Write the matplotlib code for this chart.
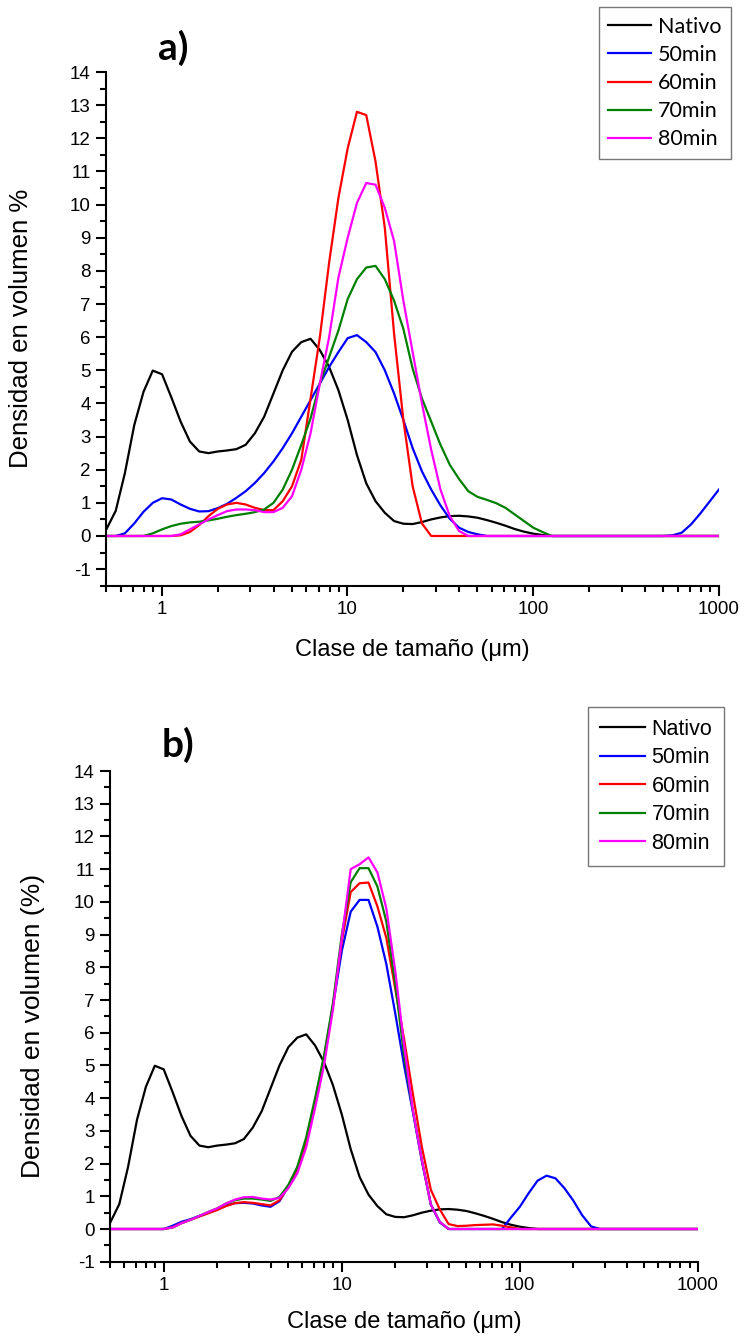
import matplotlib
matplotlib.use('Agg')
import matplotlib.pyplot as plt
from matplotlib.ticker import MultipleLocator, LogLocator, FixedLocator, FixedFormatter, NullFormatter

plt.rcParams['font.family'] = ['Liberation Sans', 'DejaVu Sans']
plt.rcParams['axes.unicode_minus'] = False

# size classes (um)
size_um = [0.502, 0.564, 0.632, 0.710, 0.796, 0.893, 1.002, 1.125, 1.262, 1.416,
           1.589, 1.783, 2.000, 2.244, 2.518, 2.825, 3.170, 3.557, 3.991, 4.477,
           5.024, 5.637, 6.325, 7.096, 7.962, 8.934, 10.024, 11.247, 12.619, 14.159,
           15.887, 17.825, 20.000, 22.440, 25.179, 28.251, 31.698, 35.566, 39.905, 44.774,
           50.238, 56.368, 63.246, 70.963, 79.621, 89.337, 100.237, 112.468, 126.191, 141.589,
           158.866, 178.250, 200.000, 224.404, 251.785, 282.508, 316.979, 355.656, 399.052, 447.744,
           502.377, 563.677, 632.456, 709.627, 796.214, 893.367, 1002.374]

nativo = [0.20, 0.76, 1.90, 3.35, 4.35, 4.99, 4.88, 4.18, 3.45, 2.85,
          2.55, 2.50, 2.55, 2.58, 2.62, 2.75, 3.10, 3.60, 4.30, 5.00,
          5.56, 5.85, 5.95, 5.61, 5.10, 4.40, 3.50, 2.44, 1.59, 1.05,
          0.70, 0.45, 0.37, 0.36, 0.42, 0.50, 0.56, 0.60, 0.61, 0.59,
          0.55, 0.48, 0.40, 0.31, 0.21, 0.13, 0.07, 0.03, 0.00, 0.00,
          0.00, 0.00, 0.00, 0.00, 0.00, 0.00, 0.00, 0.00, 0.00, 0.00,
          0.00, 0.00, 0.00, 0.00, 0.00, 0.00, 0.00]

# panel a)
a_50 = [0.00, 0.00, 0.08, 0.38, 0.73, 1.00, 1.14, 1.10, 0.95, 0.82,
        0.74, 0.75, 0.84, 0.97, 1.15, 1.35, 1.60, 1.90, 2.25, 2.65,
        3.10, 3.60, 4.10, 4.60, 5.10, 5.55, 5.97, 6.06, 5.85, 5.55,
        5.00, 4.30, 3.50, 2.65, 1.95, 1.40, 0.92, 0.52, 0.25, 0.12,
        0.05, 0.00, 0.00, 0.00, 0.00, 0.00, 0.00, 0.00, 0.00, 0.00,
        0.00, 0.00, 0.00, 0.00, 0.00, 0.00, 0.00, 0.00, 0.00, 0.00,
        0.00, 0.02, 0.10, 0.35, 0.68, 1.04, 1.40]
a_60 = [0.00, 0.00, 0.00, 0.00, 0.00, 0.00, 0.00, 0.00, 0.02, 0.12,
        0.33, 0.60, 0.82, 0.95, 1.00, 0.95, 0.85, 0.78, 0.78, 1.05,
        1.50, 2.30, 4.15, 6.00, 8.25, 10.20, 11.70, 12.80, 12.70, 11.30,
        9.30, 6.10, 3.50, 1.50, 0.38, 0.00, 0.00, 0.00, 0.00, 0.00,
        0.00, 0.00, 0.00, 0.00, 0.00, 0.00, 0.00, 0.00, 0.00, 0.00,
        0.00, 0.00, 0.00, 0.00, 0.00, 0.00, 0.00, 0.00, 0.00, 0.00,
        0.00, 0.00, 0.00, 0.00, 0.00, 0.00, 0.00]
a_70 = [0.00, 0.00, 0.00, 0.00, 0.00, 0.08, 0.20, 0.30, 0.37, 0.41,
        0.43, 0.47, 0.52, 0.58, 0.63, 0.67, 0.72, 0.80, 1.00, 1.40,
        2.00, 2.75, 3.55, 4.60, 5.40, 6.20, 7.15, 7.75, 8.10, 8.15,
        7.75, 7.10, 6.25, 5.05, 4.15, 3.45, 2.75, 2.15, 1.72, 1.35,
        1.18, 1.09, 0.99, 0.85, 0.65, 0.45, 0.25, 0.12, 0.00, 0.00,
        0.00, 0.00, 0.00, 0.00, 0.00, 0.00, 0.00, 0.00, 0.00, 0.00,
        0.00, 0.00, 0.00, 0.00, 0.00, 0.00, 0.00]
a_80 = [0.00, 0.00, 0.00, 0.00, 0.00, 0.00, 0.00, 0.00, 0.05, 0.20,
        0.35, 0.50, 0.63, 0.75, 0.80, 0.80, 0.78, 0.72, 0.72, 0.85,
        1.20, 2.00, 3.10, 4.60, 6.00, 7.80, 9.00, 10.05, 10.65, 10.60,
        9.90, 8.90, 7.10, 5.55, 4.00, 2.60, 1.40, 0.60, 0.15, 0.00,
        0.00, 0.00, 0.00, 0.00, 0.00, 0.00, 0.00, 0.00, 0.00, 0.00,
        0.00, 0.00, 0.00, 0.00, 0.00, 0.00, 0.00, 0.00, 0.00, 0.00,
        0.00, 0.00, 0.00, 0.00, 0.00, 0.00, 0.00]

# panel b)
b_50 = [0.00, 0.00, 0.00, 0.00, 0.00, 0.00, 0.00, 0.10, 0.22, 0.30,
        0.40, 0.50, 0.60, 0.72, 0.79, 0.80, 0.78, 0.72, 0.68, 0.85,
        1.30, 1.85, 2.70, 3.90, 5.20, 6.80, 8.50, 9.70, 10.06, 10.06,
        9.24, 8.10, 6.60, 5.00, 3.55, 2.07, 0.75, 0.20, 0.00, 0.00,
        0.00, 0.00, 0.00, 0.00, 0.00, 0.35, 0.68, 1.10, 1.48, 1.63,
        1.55, 1.25, 0.87, 0.42, 0.08, 0.00, 0.00, 0.00, 0.00, 0.00,
        0.00, 0.00, 0.00, 0.00, 0.00, 0.00, 0.00]
b_60 = [0.00, 0.00, 0.00, 0.00, 0.00, 0.00, 0.00, 0.05, 0.18, 0.28,
        0.38, 0.48, 0.58, 0.70, 0.79, 0.82, 0.80, 0.76, 0.72, 0.88,
        1.30, 1.85, 2.70, 3.90, 5.20, 6.80, 8.80, 10.30, 10.57, 10.59,
        9.86, 8.90, 7.35, 5.80, 4.10, 2.50, 1.20, 0.60, 0.15, 0.09,
        0.10, 0.12, 0.13, 0.14, 0.10, 0.05, 0.00, 0.00, 0.00, 0.00,
        0.00, 0.00, 0.00, 0.00, 0.00, 0.00, 0.00, 0.00, 0.00, 0.00,
        0.00, 0.00, 0.00, 0.00, 0.00, 0.00, 0.00]
b_70 = [0.00, 0.00, 0.00, 0.00, 0.00, 0.00, 0.00, 0.05, 0.18, 0.28,
        0.40, 0.52, 0.63, 0.78, 0.88, 0.93, 0.93, 0.90, 0.86, 0.98,
        1.35, 1.90, 2.80, 4.00, 5.30, 6.90, 9.00, 10.60, 11.03, 11.03,
        10.47, 9.40, 7.50, 5.30, 3.60, 2.10, 0.75, 0.22, 0.00, 0.00,
        0.00, 0.00, 0.00, 0.00, 0.00, 0.00, 0.00, 0.00, 0.00, 0.00,
        0.00, 0.00, 0.00, 0.00, 0.00, 0.00, 0.00, 0.00, 0.00, 0.00,
        0.00, 0.00, 0.00, 0.00, 0.00, 0.00, 0.00]
b_80 = [0.00, 0.00, 0.00, 0.00, 0.00, 0.00, 0.00, 0.05, 0.18, 0.28,
        0.40, 0.52, 0.63, 0.78, 0.90, 0.97, 0.98, 0.93, 0.90, 0.95,
        1.25, 1.70, 2.50, 3.70, 5.00, 6.70, 8.90, 11.00, 11.15, 11.36,
        10.90, 9.80, 7.90, 5.60, 3.60, 2.10, 0.75, 0.22, 0.00, 0.00,
        0.00, 0.00, 0.00, 0.00, 0.00, 0.00, 0.00, 0.00, 0.00, 0.00,
        0.00, 0.00, 0.00, 0.00, 0.00, 0.00, 0.00, 0.00, 0.00, 0.00,
        0.00, 0.00, 0.00, 0.00, 0.00, 0.00, 0.00]

labels = ['Nativo', '50min', '60min', '70min', '80min']
colors = ['black', 'blue', 'red', 'green', 'magenta']
x_ticks = [1, 10, 100, 1000]
x_ticklabels = ['1', '10', '100', '1000']


def style_axes(ax, ymin):
    ax.set_xscale('log')
    ax.set_xlim(0.5, 1000)
    ax.set_ylim(ymin, 14)
    ax.spines['top'].set_visible(False)
    ax.spines['right'].set_visible(False)
    for s in ['left', 'bottom']:
        ax.spines[s].set_linewidth(1.5)
    ax.xaxis.set_major_locator(FixedLocator(x_ticks))
    ax.xaxis.set_major_formatter(FixedFormatter(x_ticklabels))
    ax.xaxis.set_minor_locator(LogLocator(base=10, subs=[2, 3, 4, 5, 6, 7, 8, 9], numticks=20))
    ax.xaxis.set_minor_formatter(NullFormatter())
    ax.yaxis.set_major_locator(MultipleLocator(1))
    ax.yaxis.set_minor_locator(MultipleLocator(0.5))
    ax.tick_params(which='major', direction='out', length=7, width=1.5, labelsize=13.5, pad=4)
    ax.tick_params(which='minor', direction='out', length=4, width=1.5)


fig = plt.figure(figsize=(7.44, 13.36), dpi=100)

# ---- a)
ax1 = fig.add_axes([0.1425, 0.5616, 0.8235, 0.3845])
for y, lab, c in zip([nativo, a_50, a_60, a_70, a_80], labels, colors):
    ax1.plot(size_um, y, color=c, lw=1.6, label=lab)
style_axes(ax1, -1.5)
ax1.set_xlabel('Clase de tamaño (μm)', fontsize=17)
ax1.set_ylabel('Densidad en volumen %', fontsize=18.5)
ax1.xaxis.set_label_coords(0.5, -0.103)
ax1.yaxis.set_label_coords(-0.119, 0.5)
fig.text(173 / 744, 1 - 48 / 1336, 'a)', fontsize=28, fontweight='bold',
         family=['Lato', 'DejaVu Sans'], ha='center', va='center')
leg1 = ax1.legend(loc='upper right', bbox_to_anchor=(731 / 744, 1 - 7 / 1336),
                  bbox_transform=fig.transFigure, frameon=True,
                  fancybox=False, edgecolor='#555555', handlelength=2.0,
                  borderpad=0.45, labelspacing=0.38, handletextpad=0.3,
                  borderaxespad=0, prop={'family': ['Lato', 'DejaVu Sans'], 'size': 15.5})
leg1.get_frame().set_linewidth(1.0)

# ---- b)
ax2 = fig.add_axes([0.1478, 0.0556, 0.790, 0.3673])
for y, lab, c in zip([nativo, b_50, b_60, b_70, b_80], labels, colors):
    ax2.plot(size_um, y, color=c, lw=1.6, label=lab)
style_axes(ax2, -1)
ax2.set_xlabel('Clase de tamaño (μm)', fontsize=17)
ax2.set_ylabel('Densidad en volumen (%)', fontsize=19)
ax2.xaxis.set_label_coords(0.5, -0.1)
ax2.yaxis.set_label_coords(-0.111, 0.48)
fig.text(178 / 744, 1 - 745 / 1336, 'b)', fontsize=28, fontweight='bold',
         family=['Lato', 'DejaVu Sans'], ha='center', va='center')
leg2 = ax2.legend(loc='upper right', bbox_to_anchor=(724 / 744, 1 - 707 / 1336),
                  bbox_transform=fig.transFigure, fontsize=15.5, frameon=True,
                  fancybox=False, edgecolor='#555555', handlelength=2.1,
                  borderpad=0.55, labelspacing=0.35, handletextpad=0.3,
                  borderaxespad=0)
leg2.get_frame().set_linewidth(1.0)

fig.savefig('out.png', dpi=100)
